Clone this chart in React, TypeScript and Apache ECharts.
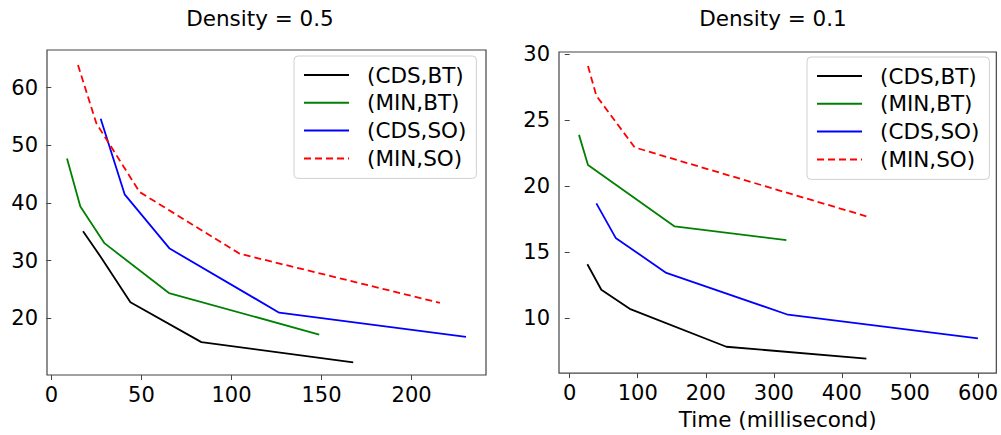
import React, { useEffect, useRef } from "react";
import * as echarts from "echarts";

// ---- Data ----
const seriesNames = ["(CDS,BT)", "(MIN,BT)", "(CDS,SO)", "(MIN,SO)"];

// Density = 0.5
const cdsBt05X = [17.6, 28, 43.9, 83.3, 167.6];
const cdsBt05Y = [35.1, 30.4, 22.8, 15.9, 12.4];
const minBt05X = [8.7, 16.1, 29.6, 65.3, 148.7];
const minBt05Y = [47.7, 39.4, 33.0, 24.4, 17.2];
const cdsSo05X = [27.4, 40.7, 65.7, 126.5, 230.2];
const cdsSo05Y = [54.6, 41.5, 32.1, 21.0, 16.8];
const minSo05X = [14.8, 25, 49, 104.6, 215.7];
const minSo05Y = [63.9, 53.8, 41.9, 31.2, 22.7];

// Density = 0.1
const cdsBt01X = [26, 46.5, 88.2, 230.2, 436];
const cdsBt01Y = [14.06, 12.13, 10.68, 7.8, 6.9];
const minBt01X = [13.7, 26.9, 154.3, 318.4];
const minBt01Y = [23.88, 21.6, 16.93, 15.9];
const cdsSo01X = [39.2, 67.6, 142, 320.8, 600];
const cdsSo01Y = [18.68, 16.06, 13.4, 10.23, 8.43];
const minSo01X = [26.9, 39.2, 95.5, 436];
const minSo01Y = [29.1, 26.85, 22.93, 17.7];

// Tick labels
const xTicks05 = [0, 50, 100, 150, 200];
const yTicks05 = [20, 30, 40, 50, 60];
const xTicks01 = [0, 100, 200, 300, 400, 500, 600];
const yTicks01 = [10, 15, 20, 25, 30];

const titles = ["Density = 0.5", "Density = 0.1"];
const xAxisTitle = "Time (millisecond)";

const colors = ["#000000", "#008000", "#0000ff", "#ff0000"];
const FONT = "DejaVu Sans";

const zip = (xs: number[], ys: number[]) => xs.map((x, i) => [x, ys[i]]);

export default function App() {
  const ref = useRef<HTMLDivElement>(null);

  useEffect(() => {
    if (!ref.current) return;
    const chart = echarts.init(ref.current, undefined, { renderer: "svg" });

    const frame = "#444";
    const mkX = (gridIndex: number, min: number, max: number, ticks: number[], extra: any = {}) => ({
      type: "value",
      gridIndex,
      min,
      max,
      axisLine: { show: false },
      splitLine: { show: false },
      axisTick: { show: true, length: 5, customValues: ticks, lineStyle: { color: frame, width: 1 } },
      axisLabel: {
        customValues: ticks,
        fontSize: 21,
        fontFamily: FONT,
        color: "#000",
        margin: 9,
      },
      ...extra,
    });
    const mkY = (gridIndex: number, min: number, max: number, ticks: number[]) => ({
      type: "value",
      gridIndex,
      min,
      max,
      axisLine: { show: false },
      splitLine: { show: false },
      axisTick: { show: true, length: 5, customValues: ticks, lineStyle: { color: frame, width: 1 } },
      axisLabel: {
        customValues: ticks,
        fontSize: 21,
        fontFamily: FONT,
        color: "#000",
        margin: 9,
      },
    });

    const panelData = [
      [zip(cdsBt05X, cdsBt05Y), zip(minBt05X, minBt05Y), zip(cdsSo05X, cdsSo05Y), zip(minSo05X, minSo05Y)],
      [zip(cdsBt01X, cdsBt01Y), zip(minBt01X, minBt01Y), zip(cdsSo01X, cdsSo01Y), zip(minSo01X, minSo01Y)],
    ];

    const series: any[] = [];
    panelData.forEach((panel, p) => {
      panel.forEach((data, i) => {
        series.push({
          type: "line",
          name: seriesNames[i],
          xAxisIndex: p,
          yAxisIndex: p,
          data,
          symbol: "none",
          showSymbol: false,
          color: colors[i],
          lineStyle: {
            color: colors[i],
            width: 1.8,
            type: i === 3 ? [7, 4] : "solid",
          },
        });
      });
    });

    const mkLegend = (left: number, top: number) => ({
      show: true,
      orient: "vertical",
      left,
      top,
      data: seriesNames,
      itemWidth: 45,
      itemHeight: 14,
      itemGap: 3.8,
      padding: [7, 10, 8, 9],
      backgroundColor: "#fff",
      borderColor: "#d0d0d0",
      borderWidth: 1,
      borderRadius: 4,
      selectedMode: false,
      itemStyle: { opacity: 0 },
      textStyle: {
        fontSize: 21.5,
        fontFamily: FONT,
        color: "#000",
        lineHeight: 24,
        padding: [0, 0, 0, 13],
      },
    });

    chart.setOption({
      animation: false,
      backgroundColor: "#fff",
      grid: [
        { left: 47, top: 50, width: 439, height: 325, show: true, borderColor: frame, borderWidth: 1.2, backgroundColor: "transparent" },
        { left: 559, top: 52, width: 438, height: 325, show: true, borderColor: frame, borderWidth: 1.2, backgroundColor: "transparent" },
      ],
      xAxis: [
        mkX(0, -2.4, 241.3, xTicks05),
        mkX(1, -15.7, 627, xTicks01, {
          name: xAxisTitle,
          nameLocation: "middle",
          nameGap: 34,
          nameTextStyle: { fontSize: 21.5, fontFamily: FONT, color: "#000" },
        }),
      ],
      yAxis: [mkY(0, 10.2, 66.5, yTicks05), mkY(1, 5.8, 30.17, yTicks01)],
      legend: [mkLegend(294, 56), mkLegend(807, 57)],
      graphic: [
        {
          type: "text",
          x: 260,
          y: 18,
          style: { text: titles[0], fontSize: 21.5, fontFamily: FONT, fill: "#000", align: "center", verticalAlign: "middle" },
        },
        {
          type: "text",
          x: 773,
          y: 18,
          style: { text: titles[1], fontSize: 21.5, fontFamily: FONT, fill: "#000", align: "center", verticalAlign: "middle" },
        },
      ],
      series,
    });

    return () => chart.dispose();
  }, []);

  return (
    <div
      ref={ref}
      style={{ position: "absolute", left: 0, top: 0, width: 1001, height: 435 }}
    />
  );
}
